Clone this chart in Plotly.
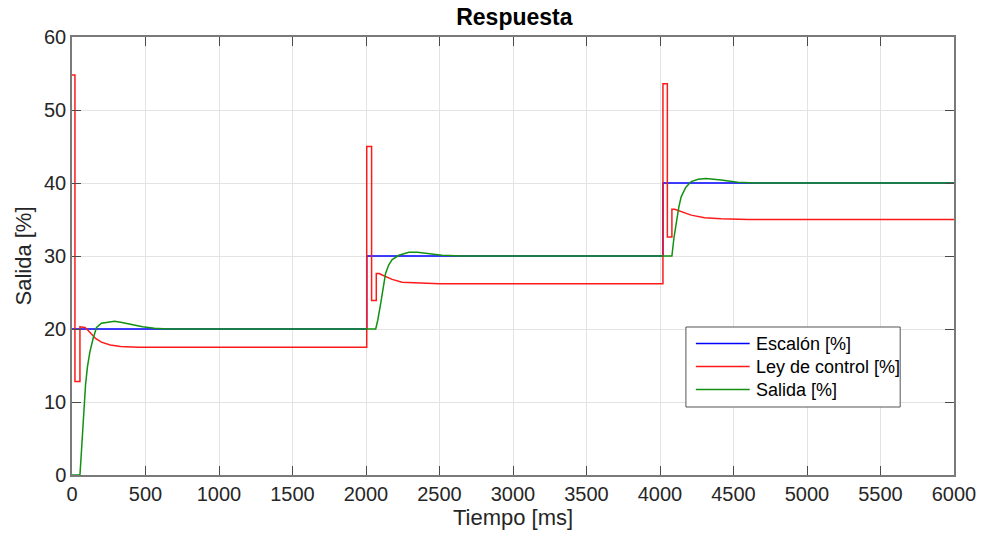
import plotly.graph_objects as go

# Step reference (Escalón)
esc_t = [0, 2005, 2005, 4020, 4020, 6000]
esc_v = [20, 20, 30, 30, 40, 40]

# Control law (Ley de control)
ley_t = [0, 20, 20, 54, 54, 88, 110, 130, 160, 200, 260, 330, 450, 700,
         2005, 2005, 2038, 2038, 2070, 2070, 2090, 2110, 2178, 2245, 2337, 2500,
         4020, 4020, 4050, 4050, 4081, 4081, 4100, 4144, 4212, 4303, 4416, 4600, 6000]
ley_v = [54.8, 54.8, 12.8, 12.8, 20.3, 20.2, 19.8, 19.3, 18.7, 18.2, 17.8, 17.6, 17.5, 17.5,
         17.5, 45.0, 45.0, 23.9, 23.9, 27.6, 27.6, 27.4, 26.8, 26.4, 26.3, 26.2,
         26.2, 53.6, 53.6, 32.6, 32.6, 36.4, 36.4, 36.1, 35.6, 35.25, 35.1, 35.0, 35.0]

# Output (Salida)
sal_t = [0, 54, 62, 72, 82, 92, 105, 122, 145, 167, 200, 258, 290, 340, 400, 480, 560, 650,
         2066, 2080, 2100, 2115, 2133, 2155, 2178, 2224, 2292, 2350, 2405, 2517, 2650,
         4081, 4095, 4111, 4128, 4144, 4175, 4212, 4260, 4314, 4370, 4416, 4529, 4650, 6000]
sal_v = [0, 0, 2.5, 6, 9.5, 12.3, 14.8, 16.9, 18.8, 20.2, 20.8, 21.0, 21.05, 20.9, 20.6, 20.3, 20.1, 20.0,
         20.0, 21.2, 23.5, 25.6, 27.6, 28.8, 29.5, 30.1, 30.5, 30.5, 30.4, 30.1, 30.0,
         30.0, 32.5, 34.9, 36.7, 38.1, 39.4, 40.2, 40.5, 40.6, 40.5, 40.4, 40.1, 40.0, 40.0]

series_names = ["Escalón [%]", "Ley de control [%]", "Salida [%]"]
series_colors = ["#0000ff", "#ff1a1a", "#129112"]

x_ticks = list(range(0, 6001, 500))
y_ticks = list(range(0, 61, 10))

FONT = "Liberation Sans, Arial, sans-serif"
W, H = 988, 541
ML, MR, MT, MB = 72, 31, 37, 66
PW, PH = W - ML - MR, H - MT - MB


def px_x(p):
    return (p - ML) / PW


def px_y(p):
    return (H - MB - p) / PH


fig = go.Figure()
for (tt, vv), name, col in zip([(esc_t, esc_v), (ley_t, ley_v), (sal_t, sal_v)],
                               series_names, series_colors):
    fig.add_trace(go.Scatter(x=tt, y=vv, mode="lines", name=name,
                             line=dict(color=col, width=1.5), showlegend=False))

axis_common = dict(
    showgrid=True, gridcolor="#e3e3e3", gridwidth=1,
    showline=True, linecolor="#7a7a7a", linewidth=1.5, mirror="allticks",
    ticks="inside", ticklen=9, tickcolor="#4a4a4a", tickwidth=1,
    zeroline=False,
    tickfont=dict(family=FONT, size=20, color="#262626"),
)

# Legend box drawn in the reference style (long line samples)
shapes = [dict(type="rect", xref="paper", yref="paper",
               x0=px_x(688), x1=px_x(903), y0=px_y(407), y1=px_y(327),
               line=dict(color="#555555", width=1), fillcolor="white", layer="above")]
annotations = []
row_y = [343.5, 366.5, 389.5]
for name, col, ry in zip(series_names, series_colors, row_y):
    shapes.append(dict(type="line", xref="paper", yref="paper",
                       x0=px_x(698), x1=px_x(752), y0=px_y(ry), y1=px_y(ry),
                       line=dict(color=col, width=1.5), layer="above"))
    annotations.append(dict(text=name, xref="paper", yref="paper",
                            x=px_x(756), y=px_y(ry), xanchor="left", yanchor="middle",
                            showarrow=False,
                            font=dict(family=FONT, size=18, color="#000000")))

fig.update_layout(
    width=W, height=H,
    margin=dict(l=ML, r=MR, t=MT, b=MB),
    paper_bgcolor="white", plot_bgcolor="white",
    title=dict(text="<b>Respuesta</b>", x=0.5206, xanchor="center", y=1 - 17 / H, yanchor="middle",
               font=dict(family=FONT, size=23, color="#000000")),
    xaxis=dict(range=[0, 6000], tickvals=x_ticks, ticktext=[str(v) for v in x_ticks],
               title=dict(text="Tiempo [ms]", standoff=3,
                          font=dict(family=FONT, size=22, color="#262626")),
               **axis_common),
    yaxis=dict(range=[0, 60], tickvals=y_ticks, ticktext=[str(v) for v in y_ticks],
               title=dict(text="Salida [%]", standoff=6,
                          font=dict(family=FONT, size=22, color="#262626")),
               **axis_common),
    shapes=shapes,
    annotations=annotations,
    showlegend=False,
)

fig.write_html("out.html",
               config={"displayModeBar": False},
               post_script="document.body.style.margin='0';document.body.style.overflow='hidden';")
